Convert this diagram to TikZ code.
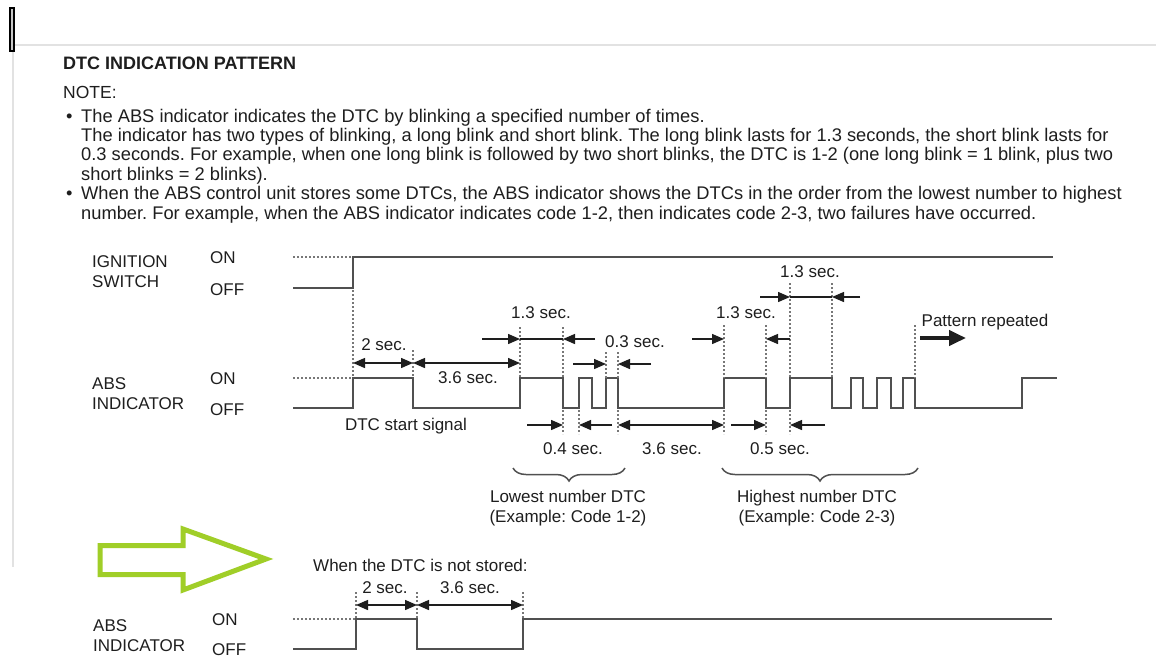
\documentclass[tikz,border=0pt]{standalone}
\usepackage{fontspec}
\setmainfont{Liberation Sans}
\usetikzlibrary{arrows.meta,decorations.pathreplacing}
\definecolor{txt}{HTML}{1E1E1E}
\definecolor{wave}{HTML}{505050}
\definecolor{dots}{HTML}{777777}
\definecolor{lime}{RGB}{160,206,40}
\definecolor{frameg}{HTML}{E2E2E2}
\frenchspacing
\begin{document}
\begin{tikzpicture}[x=1pt,y=-1pt,
  lbl/.style={font=\fontsize{17}{20}\selectfont, text=txt, inner sep=0pt, anchor=base},
  lblw/.style={lbl, anchor=base west},
  bodyw/.style={font=\fontsize{18.3}{21}\selectfont, text=txt, inner sep=0pt, anchor=base west},
  titlestyle/.style={font=\bfseries\fontsize{18}{21}\selectfont, text=txt, inner sep=0pt, anchor=base west},
  wavel/.style={draw=wave, line width=2.1pt},
  dotl/.style={draw=dots, line width=1.6pt, dash pattern=on 1.6pt off 2.4pt},
  dim/.style={draw=txt, line width=1.4pt},
  tip/.style={dim, -{Triangle[length=12pt,width=10pt]}},
  dtip/.style={dim, {Triangle[length=12pt,width=10pt]}-{Triangle[length=12pt,width=10pt]}},
  bigtip/.style={draw=txt, line width=4pt, -{Triangle[length=17pt,width=15pt]}},
  bracestyle/.style={draw=wave, line width=1.5pt, decorate, decoration={brace, mirror, amplitude=13pt}},
  greenarrow/.style={draw=lime, line width=5pt, line join=miter},
]
\fill[white] (0,0) rectangle (1156,659);
\useasboundingbox (0,0) rectangle (1156,659);

% frame lines
\draw[frameg, line width=1.2pt] (15,45) -- (1156,45);
\draw[frameg, line width=1.2pt] (13,47) -- (13,567);
\draw[black, line width=1.6pt, fill=gray!45] (10,8) rectangle (14,51);

% header text
\node[titlestyle] (title) at (63,69) {DTC INDICATION PATTERN};
\node[lbl, anchor=base west, font=\fontsize{17.5}{20}\selectfont] (note) at (63,98) {NOTE:};
\node[bodyw] (bul1) at (66,122) {•};
\node[bodyw] (l1) at (81,122) {The ABS indicator indicates the DTC by blinking a specified number of times.};
\node[bodyw] (l2) at (81,141.4) {The indicator has two types of blinking, a long blink and short blink. The long blink lasts for 1.3 seconds, the short blink lasts for};
\node[bodyw] (l3) at (81,160.8) {0.3 seconds. For example, when one long blink is followed by two short blinks, the DTC is 1-2 (one long blink = 1 blink, plus two};
\node[bodyw] (l4) at (81,180.2) {short blinks = 2 blinks).};
\node[bodyw] (bul2) at (66,199.6) {•};
\node[bodyw] (l5) at (81,199.6) {When the ABS control unit stores some DTCs, the ABS indicator shows the DTCs in the order from the lowest number to highest};
\node[bodyw] (l6) at (81,219) {number. For example, when the ABS indicator indicates code 1-2, then indicates code 2-3, two failures have occurred.};

% signal labels
\node[lblw] (ign1) at (92,267) {IGNITION};
\node[lblw] (ign2) at (92,287) {SWITCH};
\node[lblw] (ignon) at (210,263) {ON};
\node[lblw] (ignoff) at (210,295) {OFF};
\node[lblw] (abs1) at (92,389) {ABS};
\node[lblw] (abs2) at (92,409) {INDICATOR};
\node[lblw] (abson) at (210,384) {ON};
\node[lblw] (absoff) at (210,415) {OFF};

% ignition waveform
\draw[dotl] (293,257) -- (353,257);
\draw[wavel] (293,288) -- (353,288) -- (353,257) -- (1053,257);

% ABS waveform
\draw[dotl] (293,378) -- (353,378);
\draw[wavel] (293,408) -- (353,408) -- (353,378) -- (413,378) -- (413,408)
  -- (520,408) -- (520,378) -- (563,378) -- (563,408) -- (579,408) -- (579,378)
  -- (592,378) -- (592,408) -- (606,408) -- (606,378) -- (618,378) -- (618,408)
  -- (724,408) -- (724,378) -- (766,378) -- (766,408) -- (790,408) -- (790,378)
  -- (832,378) -- (832,408) -- (851,408) -- (851,378) -- (863,378) -- (863,408)
  -- (877,408) -- (877,378) -- (891,378) -- (891,408) -- (903,408) -- (903,378)
  -- (915,378) -- (915,408) -- (1022,408) -- (1022,378) -- (1057,378);

% dotted guide lines
\draw[dotl] (353,290) -- (353,378);
\draw[dotl] (413,350) -- (413,378);
\draw[dotl] (520,327) -- (520,378);
\draw[dotl] (563,327) -- (563,378);
\draw[dotl] (606,352) -- (606,378);
\draw[dotl] (618,352) -- (618,378);
\draw[dotl] (724,325) -- (724,378);
\draw[dotl] (766,325) -- (766,378);
\draw[dotl] (790,283) -- (790,378);
\draw[dotl] (832,283) -- (832,378);
\draw[dotl] (915,325) -- (915,378);
\foreach \x in {563,579,618,724,766,790} \draw[dotl] (\x,410) -- (\x,434);

% dimension arrows
\coordinate (a2l) at (353,363); \coordinate (a2r) at (413,363); \coordinate (a36r) at (520,363);
\draw[dtip] (a2l) -- (a2r);
\draw[dtip] (a2r) -- (a36r);
\node[lbl] (t2) at (384,350) {2 sec.};
\node[lbl] (t36a) at (468,383) {3.6 sec.};
\node[lbl] (tstart) at (406,430) {DTC start signal};

\draw[tip] (482,339) -- (520,339);
\draw[dim] (520,339) -- (563,339);
\draw[tip] (595,339) -- (563,339);
\node[lbl] (t13a) at (541,318) {1.3 sec.};

\draw[tip] (573,364) -- (606,364);
\draw[tip] (651,364) -- (618,364);
\node[lbl] (t03) at (635,347) {0.3 sec.};

\draw[tip] (692,339) -- (724,339);
\draw[tip] (790,339) -- (766,339);
\node[lbl] (t13b) at (746,318) {1.3 sec.};

\draw[tip] (760,297) -- (790,297);
\draw[dim] (790,297) -- (832,297);
\draw[tip] (860,297) -- (832,297);
\node[lbl] (t13c) at (810,277) {1.3 sec.};

\node[lbl] (trep) at (985,326) {Pattern repeated};
\draw[bigtip] (920,338) -- (966,338);

\draw[tip] (527,425) -- (563,425);
\draw[tip] (612,425) -- (579,425);
\draw[dtip] (618,425) -- (724,425);
\draw[tip] (731,425) -- (766,425);
\draw[tip] (825,425) -- (790,425);
\node[lbl] (t04) at (573,454) {0.4 sec.};
\node[lbl] (t36b) at (672,454) {3.6 sec.};
\node[lbl] (t05) at (780,454) {0.5 sec.};

% braces
\draw[bracestyle] (513,468) -- (625,468);
\draw[bracestyle] (722,468) -- (918,468);
\node[lbl] (low1) at (568,502) {Lowest number DTC};
\node[lbl] (low2) at (568,522) {(Example: Code 1-2)};
\node[lbl] (high1) at (817,502) {Highest number DTC};
\node[lbl] (high2) at (817,522) {(Example: Code 2-3)};

% green arrow
\draw[greenarrow] (100,545.5) -- (183,545.5) -- (183,529) -- (266,559) -- (183,590) -- (183,574.5) -- (100,574.5) -- cycle;

% not stored
\node[lblw] (nst) at (313,571) {When the DTC is not stored:};
\node[lblw] (abs3) at (93,631) {ABS};
\node[lblw] (abs4) at (93,651) {INDICATOR};
\node[lblw] (abson2) at (212,625) {ON};
\node[lblw] (absoff2) at (212,655) {OFF};
\draw[dotl] (293,619) -- (356,619);
\draw[wavel] (293,649) -- (356,649) -- (356,619) -- (417,619) -- (417,649) -- (523,649) -- (523,619) -- (1052,619);
\foreach \x in {356,417,523} \draw[dotl] (\x,592) -- (\x,619);
\coordinate (b2l) at (356,605); \coordinate (b2r) at (417,605); \coordinate (b36r) at (523,605);
\draw[dtip] (b2l) -- (b2r);
\draw[dtip] (b2r) -- (b36r);
\node[lbl] (bt2) at (385,593) {2 sec.};
\node[lbl] (bt36) at (470,593) {3.6 sec.};
\end{tikzpicture}
\end{document}
